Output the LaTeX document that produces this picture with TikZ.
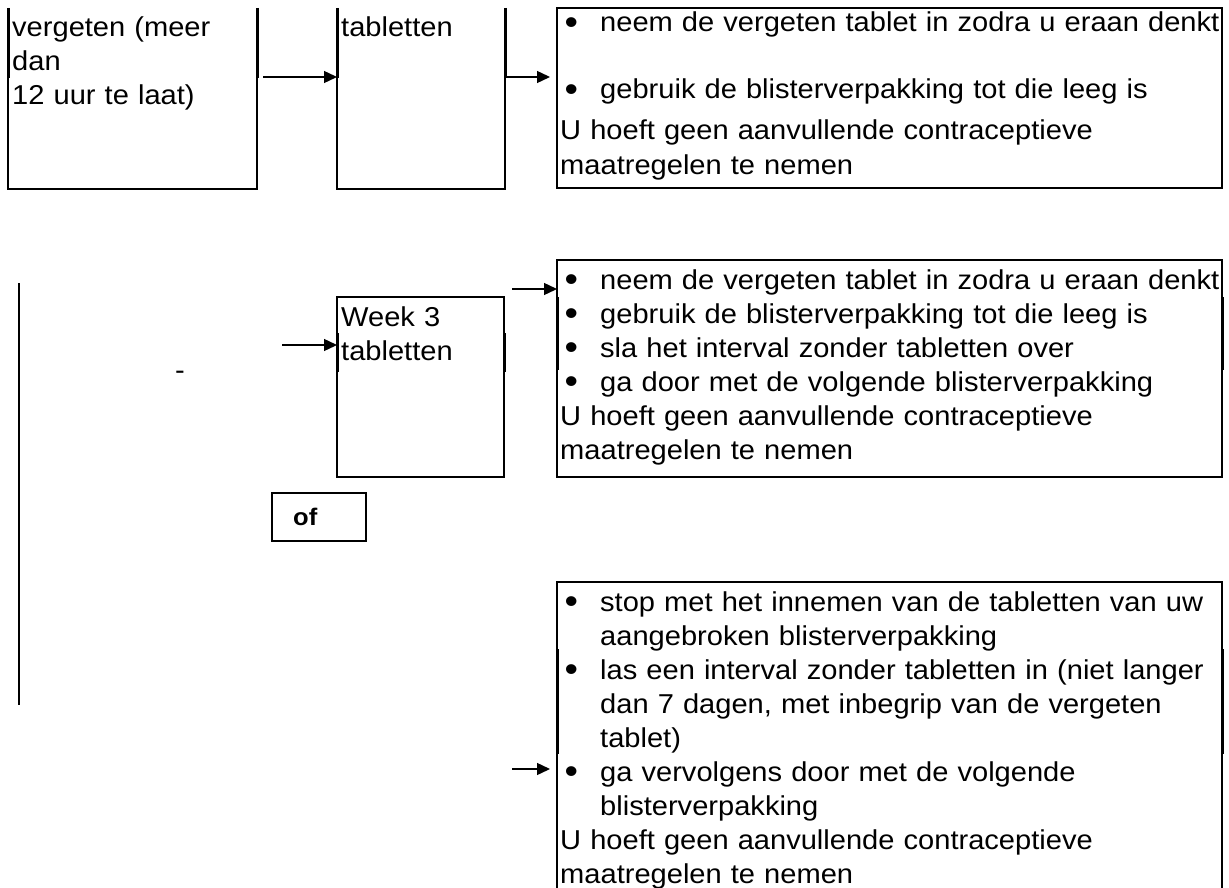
\documentclass[tikz,border=0pt]{standalone}
\usepackage{fontspec}
\setmainfont{Liberation Sans}[FakeStretch=1.065]
\usetikzlibrary{arrows.meta}
\newcommand\bodyfont{\fontsize{27.3}{34}\selectfont}
\newcommand\offont{\fontsize{24}{28}\selectfont\bfseries}
\newcommand\bmark{\makebox[40pt][l]{\hspace{4.5pt}\raisebox{-2.5pt}{\fontsize{36}{34}\selectfont •}}}
\newcommand\bitem[1]{\hangindent=40pt\hangafter=1\noindent\bmark#1}
\newcommand\nl{\hfil\break}
\begin{document}
\begin{tikzpicture}[x=1pt,y=-1pt,
  thinline/.style={line width=1.3pt},
  thickseg/.style={line width=3pt},
  arr/.style={line width=1.4pt,-{Triangle[length=13pt,width=12pt]}},
  txt/.style={anchor=base west,inner sep=0pt,align=left,text width=700pt,font=\bodyfont},
  frame/.style={draw,line width=1.3pt,inner sep=0pt,outer sep=0pt,anchor=north west},
  open/.style={inner sep=0pt,outer sep=0pt,anchor=north west}]

\useasboundingbox[fill=white] (0,0) rectangle (1229,888);

% top row
\node[open,minimum width=249pt,minimum height=181pt] (b1) at (8,8) {};
\node[open,minimum width=168pt,minimum height=181pt] (b2) at (337,8) {};
\node[frame,minimum width=665pt,minimum height=180pt] (b3) at (557,8) {};
\foreach \b in {b1,b2}{
  \draw[thinline] (\b.north west) -- (\b.south west) -- (\b.south east) -- (\b.north east);
  \draw[thickseg] (\b.north west) -- ++(0,70);
  \draw[thickseg] (\b.north east) -- ++(0,70);
}
\node[txt,text width=240pt] (t1) at (12,37) {vergeten (meer\\dan\\12 uur te laat)};
\node[txt,text width=160pt] (t2) at (341,37) {tabletten};
\node[txt] (t3a) at (560,32) {\bitem{neem de vergeten tablet in zodra u eraan denkt}};
\node[txt] (t3b) at (560,99) {\bitem{gebruik de blisterverpakking tot die leeg is}};
\node[txt,font=\fontsize{27.3}{35}\selectfont] (t3c) at (560,140) {U hoeft geen aanvullende contraceptieve\\maatregelen te nemen};

\coordinate (a1) at (263,77);
\draw[arr] (a1) -- (a1 -| b2.west);
\coordinate (a2e) at (550,77);
\draw[arr] (a2e -| b2.east) -- (a2e);

% middle
\coordinate (vl1) at (19,283);
\coordinate (vl2) at (19,705);
\draw[thinline] (vl1) -- (vl2);
\node[anchor=base west,inner sep=0pt,font=\bodyfont] (dash) at (175,379) {-};

\node[frame,minimum width=167pt,minimum height=180pt] (w3) at (337,297) {};
\draw[thickseg] ([yshift=-36pt]w3.north west) -- ++(0,39);
\draw[thickseg] ([yshift=-36pt]w3.north east) -- ++(0,39);
\node[txt,text width=160pt] (tw3) at (341,326) {Week 3\\tabletten};
\coordinate (a3) at (282,345);
\draw[arr] (a3) -- (a3 -| w3.west);

\node[frame,minimum width=665pt,minimum height=217pt] (b4) at (557,260) {};
\draw[thickseg] ([yshift=-37pt]b4.north west) -- ++(0,73);
\draw[thickseg] ([yshift=-37pt]b4.north east) -- ++(0,73);
\node[txt] (t4) at (560,289) {\bitem{neem de vergeten tablet in zodra u eraan denkt}\par\bitem{gebruik de blisterverpakking tot die leeg is}\par\bitem{sla het interval zonder tabletten over}\par\bitem{ga door met de volgende blisterverpakking}\par\noindent U hoeft geen aanvullende contraceptieve\\maatregelen te nemen};
\coordinate (a4) at (512,289);
\draw[arr] (a4) -- (a4 -| b4.west);

\node[frame,minimum width=94pt,minimum height=48pt] (ofb) at (272,493) {};
\node[anchor=base west,inner sep=0pt,font=\offont] (oft) at (293,525) {of};

% bottom
\node[frame,minimum width=665pt,minimum height=330pt] (b5) at (557,582) {};
\draw[thickseg] ([yshift=-67pt]b5.north west) -- ++(0,105);
\draw[thickseg] ([yshift=-67pt]b5.north east) -- ++(0,105);
\node[txt] (t5) at (560,611) {\bitem{stop met het innemen van de tabletten van uw\nl aangebroken blisterverpakking}\par\bitem{las een interval zonder tabletten in (niet langer\nl dan 7 dagen, met inbegrip van de vergeten\nl tablet)}\par\bitem{ga vervolgens door met de volgende\nl blisterverpakking}\par\noindent U hoeft geen aanvullende contraceptieve\\maatregelen te nemen};
\coordinate (a5) at (512,769);
\coordinate (a5e) at (550,769);
\draw[arr] (a5) -- (a5e);
\end{tikzpicture}
\end{document}
